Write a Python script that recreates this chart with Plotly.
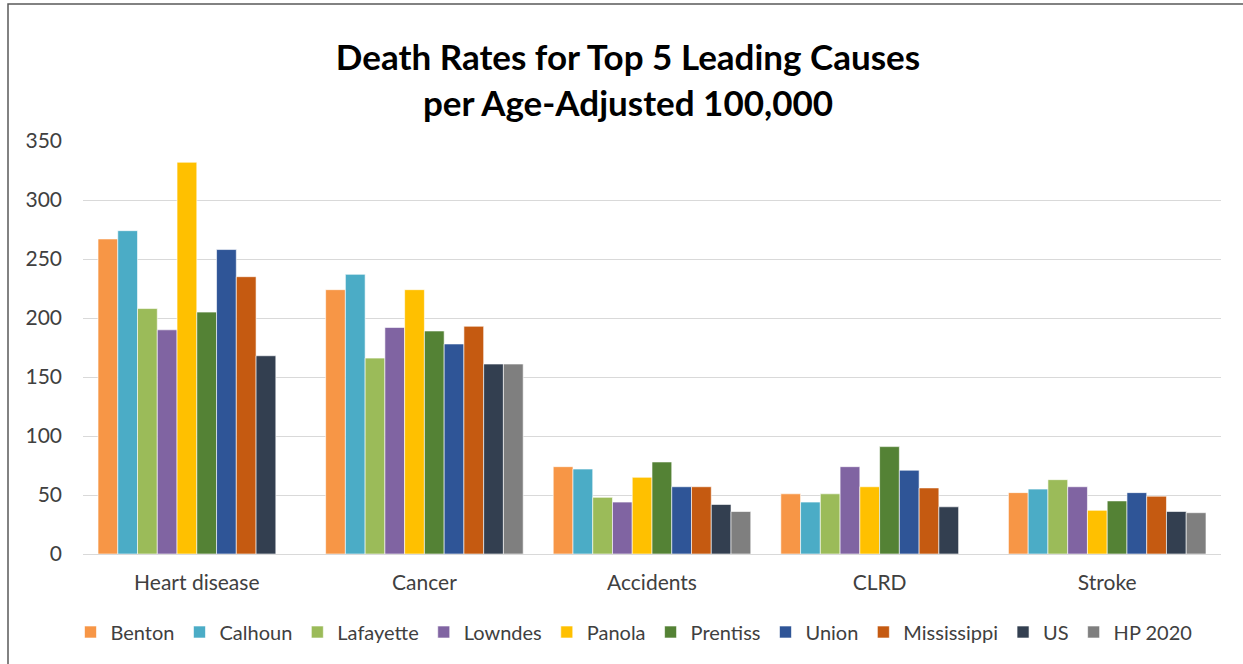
import plotly.graph_objects as go

causes = ["Heart disease", "Cancer", "Accidents", "CLRD", "Stroke"]
series_names = ["Benton", "Calhoun", "Lafayette", "Lowndes", "Panola",
                "Prentiss", "Union", "Mississippi", "US", "HP 2020"]

benton = [267, 224, 74, 51, 52]
calhoun = [274, 237, 72, 44, 55]
lafayette = [208, 166, 48, 51, 63]
lowndes = [190, 192, 44, 74, 57]
panola = [332, 224, 65, 57, 37]
prentiss = [205, 189, 78, 91, 45]
union = [258, 178, 57, 71, 52]
mississippi = [235, 193, 57, 56, 49]
us = [168, 161, 42, 40, 36]
hp2020 = [None, 161, 36, None, 35]

values = [benton, calhoun, lafayette, lowndes, panola,
          prentiss, union, mississippi, us, hp2020]
colors = ["#F79646", "#4BACC6", "#9BBB59", "#8064A2", "#FFC000",
          "#548235", "#2F5597", "#C55A11", "#333F50", "#7F7F7F"]

y_ticks = [0, 50, 100, 150, 200, 250, 300, 350]

fig = go.Figure()
for name, vals, col in zip(series_names, values, colors):
    fig.add_trace(go.Bar(
        name=name, x=causes, y=vals,
        marker=dict(color=col, line=dict(color="rgba(255,255,255,0.8)", width=0.75)),
    ))

W, H = 1243, 664
ml, mr, mt, mb = 83, 22, 141, 110
pw = W - ml - mr
ph = H - mt - mb

fig.update_layout(
    width=W, height=H,
    margin=dict(l=ml, r=mr, t=mt, b=mb, pad=0, autoexpand=False),
    paper_bgcolor="white", plot_bgcolor="white",
    barmode="group", bargap=0.132, bargroupgap=0,
    font=dict(family="Lato, Open Sans, sans-serif", size=21, color="#404040"),
    title=dict(
        text="<b>Death Rates for Top 5 Leading Causes<br>per Age-Adjusted 100,000</b>",
        x=(628 - ml) / pw, xref="paper", xanchor="center",
        y=(H - 70) / H, yref="container", yanchor="middle",
        font=dict(family="Lato, Open Sans, sans-serif", size=35, color="#000000"),
    ),
    showlegend=True,
    legend=dict(
        orientation="h", x=(634 - ml) / pw, xanchor="center",
        y=-(632 - 554) / ph, yanchor="middle",
        font=dict(size=20, color="#404040"),
        itemwidth=30, traceorder="normal",
        itemclick=False,
    ),
    xaxis=dict(
        showgrid=False, showline=False, zeroline=False,
        ticks="", ticklabelstandoff=14,
        tickfont=dict(size=21, color="#404040"),
    ),
    yaxis=dict(
        range=[0, 350], tickvals=y_ticks,
        showgrid=True, gridcolor="#D9D9D9", gridwidth=1,
        zeroline=True, zerolinecolor="#D9D9D9", zerolinewidth=1,
        showline=False, ticks="", ticklabelstandoff=20,
        tickfont=dict(size=21, color="#404040"),
    ),
    shapes=[dict(
        type="rect", xref="paper", yref="paper",
        x0=(8 - ml) / pw, x1=(W + 5 - ml) / pw,
        y0=-(H + 5 - (mt + ph)) / ph, y1=(mt + ph - 4) / ph,
        line=dict(color="#595959", width=1.5), fillcolor="rgba(0,0,0,0)",
        layer="below",
    )],
)

fig.write_html("out.html")
